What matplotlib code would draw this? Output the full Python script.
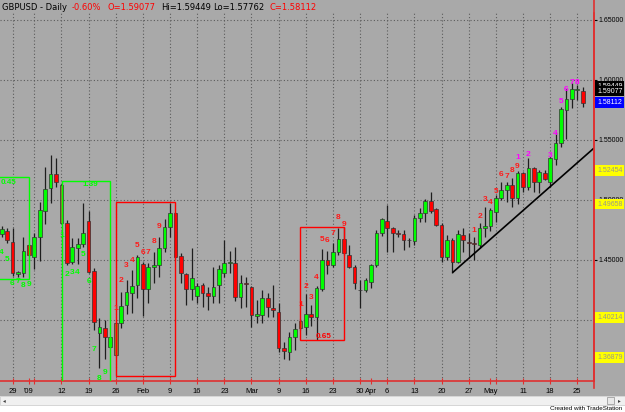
import numpy as np
import matplotlib
matplotlib.use("Agg")
import matplotlib.pyplot as plt
import matplotlib.transforms as mtransforms
from matplotlib.patches import Rectangle
from matplotlib.lines import Line2D

# GBPUSD daily bars, Dec 24 2008 .. May 26 2009 (bar index = trading day)
opens = [1.4717, 1.4744, 1.4650, 1.4383, 1.4394, 1.4625, 1.4523, 1.4689, 1.4911, 1.5098,
         1.5217, 1.5125, 1.4806, 1.4486, 1.4603, 1.4631, 1.4825, 1.4408, 1.3889, 1.3936,
         1.3778, 1.3711, 1.3978, 1.4125, 1.4223, 1.4292, 1.4467, 1.4258, 1.4444, 1.4458,
         1.4598, 1.4773, 1.4894, 1.4533, 1.4383, 1.4258, 1.4200, 1.4292, 1.4228, 1.4200,
         1.4292, 1.4389, 1.4473, 1.4473, 1.4194, 1.4308, 1.4278, 1.4033, 1.4042, 1.4181,
         1.4098, 1.4069, 1.3764, 1.3736, 1.3861, 1.3931, 1.3944, 1.4050, 1.4023, 1.4256,
         1.4500, 1.4458, 1.4564, 1.4673, 1.4542, 1.4439, 1.4246, 1.4250, 1.4317, 1.4458,
         1.4723, 1.4828, 1.4764, 1.4728, 1.4714, 1.4667, 1.4661, 1.4848, 1.4889, 1.4992,
         1.4923, 1.4792, 1.4528, 1.4667, 1.4486, 1.4708, 1.4653, 1.4639, 1.4625, 1.4764,
         1.4783, 1.4903, 1.5014, 1.5083, 1.5125, 1.5014, 1.5223, 1.5111, 1.5264, 1.5153,
         1.5228, 1.5153, 1.5339, 1.5473, 1.5750, 1.5839, 1.5917, 1.59077]
highs = [1.4783, 1.4767, 1.4767, 1.4408, 1.4692, 1.4633, 1.4728, 1.4986, 1.5278, 1.5375,
         1.5348, 1.5133, 1.4833, 1.4681, 1.4681, 1.4973, 1.4908, 1.4436, 1.4014, 1.4000,
         1.3861, 1.3983, 1.4236, 1.4333, 1.4417, 1.4542, 1.4486, 1.4478, 1.4569, 1.4694,
         1.4839, 1.4978, 1.4903, 1.4561, 1.4394, 1.4598, 1.4306, 1.4306, 1.4278, 1.4439,
         1.4458, 1.4667, 1.4575, 1.4606, 1.4375, 1.4361, 1.4283, 1.4167, 1.4250, 1.4223,
         1.4292, 1.4142, 1.3817, 1.3900, 1.3973, 1.4008, 1.4217, 1.4125, 1.4283, 1.4589,
         1.4578, 1.4639, 1.4764, 1.4778, 1.4625, 1.4458, 1.4333, 1.4350, 1.4467, 1.4750,
         1.4850, 1.4958, 1.4778, 1.4750, 1.4750, 1.4681, 1.4875, 1.4931, 1.5006, 1.5069,
         1.4931, 1.4806, 1.4708, 1.4681, 1.4750, 1.4767, 1.4725, 1.4694, 1.4806, 1.4944,
         1.4931, 1.5042, 1.5153, 1.5153, 1.5181, 1.5244, 1.5236, 1.5348, 1.5278, 1.5250,
         1.5250, 1.5361, 1.5569, 1.5778, 1.5922, 1.5972, 1.5958, 1.59449]
lows = [1.4692, 1.4642, 1.4367, 1.4358, 1.4358, 1.4533, 1.4423, 1.4494, 1.4798, 1.4978,
        1.5111, 1.4808, 1.4458, 1.4467, 1.4467, 1.4611, 1.4389, 1.3917, 1.3598, 1.3673,
        1.3764, 1.3700, 1.3933, 1.4050, 1.4058, 1.4181, 1.4033, 1.4144, 1.4306, 1.4356,
        1.4564, 1.4694, 1.4517, 1.4306, 1.4125, 1.4167, 1.4139, 1.4111, 1.4083, 1.4139,
        1.4139, 1.4356, 1.4389, 1.4161, 1.4098, 1.4111, 1.3944, 1.3975, 1.3973, 1.4028,
        1.4028, 1.3733, 1.3675, 1.3667, 1.3750, 1.3917, 1.3875, 1.3950, 1.3833, 1.4244,
        1.4383, 1.4444, 1.4542, 1.4542, 1.4431, 1.4256, 1.4098, 1.4233, 1.4267, 1.4442,
        1.4700, 1.4569, 1.4569, 1.4694, 1.4583, 1.4611, 1.4625, 1.4819, 1.4819, 1.4889,
        1.4783, 1.4486, 1.4500, 1.4394, 1.4473, 1.4569, 1.4514, 1.4500, 1.4598, 1.4694,
        1.4744, 1.4819, 1.5000, 1.4986, 1.4944, 1.4967, 1.5069, 1.5083, 1.5069, 1.5056,
        1.5167, 1.5111, 1.5292, 1.5444, 1.5506, 1.5764, 1.5833, 1.57762]
closes = [1.4758, 1.4667, 1.4392, 1.4400, 1.4578, 1.4542, 1.4689, 1.4917, 1.5089, 1.5217,
          1.5153, 1.4811, 1.4473, 1.4606, 1.4631, 1.4723, 1.4403, 1.3986, 1.3944, 1.3861,
          1.3856, 1.3978, 1.4117, 1.4236, 1.4286, 1.4528, 1.4256, 1.4444, 1.4458, 1.4598,
          1.4778, 1.4889, 1.4528, 1.4389, 1.4258, 1.4348, 1.4283, 1.4223, 1.4200, 1.4278,
          1.4423, 1.4473, 1.4481, 1.4189, 1.4306, 1.4300, 1.4042, 1.4050, 1.4181, 1.4111,
          1.4081, 1.3764, 1.3739, 1.3861, 1.3923, 1.3992, 1.4050, 1.4028, 1.4264, 1.4500,
          1.4458, 1.4564, 1.4673, 1.4556, 1.4444, 1.4306, 1.4254, 1.4333, 1.4458, 1.4723,
          1.4839, 1.4764, 1.4723, 1.4714, 1.4667, 1.4663, 1.4848, 1.4894, 1.4994, 1.4911,
          1.4792, 1.4528, 1.4667, 1.4486, 1.4717, 1.4667, 1.4639, 1.4631, 1.4764, 1.4783,
          1.4917, 1.5019, 1.5083, 1.5125, 1.5014, 1.5223, 1.5111, 1.5264, 1.5153, 1.5236,
          1.5173, 1.5348, 1.5473, 1.5756, 1.5839, 1.5925, 1.5921, 1.58112]
flip_bars = [11, 21, 55]  # olive bars where a count starts

# date axis
tick_idx = [2, 5, 6, 11, 16, 21, 26, 31, 36, 41, 46, 51, 56, 61, 66, 68, 71, 76, 81, 86, 90, 91, 96, 101, 106]
tick_lbl = ['29', "'09", '', '12', '19', '26', 'Feb', '9', '16', '23', 'Mar', '9', '16', '23',
            '30', 'Apr', '6', '13', '20', '27', 'May', '', '11', '18', '25']
monday_idx = [2, 6, 11, 16, 21, 26, 31, 36, 41, 46, 51, 56, 61, 66, 71, 76, 81, 86, 91, 96, 101, 106]
price_levels = [1.40, 1.45, 1.50, 1.55, 1.60, 1.65]

# setup counts: bar index and label price
green_a_idx = [0, 1, 2, 3, 4, 5]
green_a_txt = ['4', '5', '6', '7', '8', '9']
green_a_y = [1.4563, 1.4503, 1.4308, 1.4321, 1.4285, 1.4296]
green_b_idx = [11, 12, 13, 14, 15, 16, 17, 18, 19]
green_b_y = [1.4708, 1.4375, 1.4400, 1.4400, 1.4546, 1.4319, 1.3756, 1.3514, 1.3564]
red_a_idx = [21, 22, 23, 24, 25, 26, 27, 28, 29]
red_a_y = [1.4097, 1.4329, 1.4450, 1.4494, 1.4622, 1.4564, 1.4564, 1.4658, 1.4783]
red_b_idx = [55, 56, 57, 58, 59, 60, 61, 62, 63]
red_b_y = [1.4133, 1.4283, 1.4186, 1.4356, 1.4667, 1.4661, 1.4717, 1.4856, 1.4800]
red_c_idx = [87, 88, 89, 90, 91, 92, 93, 94, 95]
red_c_y = [1.4744, 1.4861, 1.5000, 1.4978, 1.5069, 1.5214, 1.5194, 1.5250, 1.5283]
mag_idx = [95, 97, 101, 102, 103, 104, 105, 106]
mag_y = [1.5356, 1.5381, 1.5369, 1.5556, 1.5819, 1.5922, 1.5978, 1.5978]

# setup boxes: (left idx, right idx, low, high, colour, label, label idx, label price)
boxes = [
    (-1.0, 5.08, 1.4339, 1.5189, '#00ff00', '0.45', 1.25, 1.5144),
    (11.05, 20.0, 1.3300, 1.5161, '#00ff00', '1.39', 16.35, 1.5125),
    (21.0, 32.0, 1.3533, 1.4986, '#ff0000', '', 0, 0),
    (55.0, 63.0, 1.3833, 1.4778, '#ff0000', '0.65', 59.3, 1.3861),
]
trend_from, trend_thru = 83, 101

# price markers on the right scale
yellow_levels = [1.52454, 1.49658, 1.40214, 1.36879]

BG = '#a9a9a9'
GRID = '#5c5c5c'
W, H = 625, 412
FONT = ['Liberation Sans', 'DejaVu Sans']

fig = plt.figure(figsize=(W / 100, H / 100), dpi=100, facecolor=BG)
ax = fig.add_axes([0, (H - 381) / H, 594 / W, 368 / H])
ax.set_facecolor(BG)

n = len(opens)
x = np.arange(n)
o = np.array(opens); c = np.array(closes)
hi = np.array(highs); lo = np.array(lows)

x_left = (0 - 1.7) / 5.43
x_right = (594 - 1.7) / 5.43
ax.set_xlim(x_left, x_right)
ax.set_ylim(1.6 - 301 / 1200, 1.6 + 67 / 1200)

# grid
for g in monday_idx:
    ax.axvline(g, color=GRID, lw=0.8, ls=(0, (1, 2)), zorder=1)
for lv in price_levels:
    ax.axhline(lv, color=GRID, lw=0.8, ls=(0, (1, 2)), zorder=1)

# candles
ax.vlines(x, lo, hi, color='#1e1e1e', lw=0.9, zorder=3)
body_lo = np.minimum(o, c)
body_h = np.maximum(np.abs(c - o), 0.0006)
cols = ['#00ff00' if cc >= oo else '#ff0000' for oo, cc in zip(o, c)]
for i in flip_bars:
    cols[i] = '#9a7b2a'
ax.bar(x, body_h, bottom=body_lo, width=0.68, color=cols, edgecolor='#333333',
       linewidth=0.5, zorder=4)

# setup boxes
for x0, x1, y0, y1, col, lbl, lx, ly in boxes:
    ax.add_patch(Rectangle((x0, y0), x1 - x0, y1 - y0, fill=False, edgecolor=col,
                           lw=1.0, zorder=5))
    if lbl:
        ax.text(lx, ly, lbl, color=col, fontsize=5.8, fontweight='bold', family=FONT,
                ha='center', va='center', zorder=6)

# counts
def counts(idx, ys, col, txt=None):
    if txt is None:
        txt = [str(k + 1) for k in range(len(idx))]
    for i, yv, t in zip(idx, ys, txt):
        ax.text(i, yv, t, color=col, fontsize=6, fontweight='bold', family=FONT,
                ha='center', va='center', zorder=6)

counts(green_a_idx, green_a_y, '#00ff00', green_a_txt)
counts(green_b_idx, green_b_y, '#00ff00')
counts(red_a_idx, red_a_y, '#ff1a1a')
counts(red_b_idx, red_b_y, '#ff1a1a')
counts(red_c_idx, red_c_y, '#ff1a1a')
counts(mag_idx, mag_y, '#ff00ff')

# trendline through two lows, extended to the right edge
slope = (lo[trend_thru] - lo[trend_from]) / (trend_thru - trend_from)
ax.plot([trend_from, x_right], [lo[trend_from], lo[trend_from] + slope * (x_right - trend_from)],
        color='black', lw=1.2, zorder=5, solid_capstyle='butt')

# axes styling
for s in ['top', 'left']:
    ax.spines[s].set_visible(False)
for s in ['right', 'bottom']:
    ax.spines[s].set_color('#e03030')
    ax.spines[s].set_linewidth(1.2)

ax.set_xticks(tick_idx)
ax.set_xticklabels(tick_lbl, fontsize=5.5, family=FONT)
ax.tick_params(axis='x', direction='inout', length=4, color='#e03030', pad=3)
ax.yaxis.tick_right()
ax.set_yticks(price_levels)
ax.set_yticklabels(['%.5f' % v for v in price_levels], fontsize=5, family=FONT)
ax.tick_params(axis='y', direction='out', length=2.5, color='black', pad=0.5)

# right scale markers
tr = mtransforms.blended_transform_factory(ax.transAxes, ax.transData)
def marker(p, txt, fc, tc):
    ax.text(1.0 + 3 / 594, p, txt, transform=tr, fontsize=5, family=FONT, color=tc,
            ha='left', va='center', clip_on=False, zorder=10,
            bbox=dict(boxstyle='square,pad=0.25', fc=fc, ec='none'))

for lv in yellow_levels:
    marker(lv, '%.5f' % lv, '#ffff00', '#9a9a88')
marker(highs[-1], '%.5f' % highs[-1], 'black', 'white')
marker(opens[-1], '%.5f' % opens[-1], 'black', 'white')
marker(closes[-1], '%.5f' % closes[-1], '#0000ff', 'white')

fig.add_artist(Line2D([594 / W, 594 / W], [(H - 388) / H, 1.0], color='#e03030', lw=1.2))

# header
def head(px, txt, col):
    fig.text(px / W, 1 - 7.5 / H, txt, color=col, fontsize=6, family='DejaVu Sans',
             ha='left', va='center')

head(2, 'GBPUSD - Daily', 'black')
head(72, '-0.60%', '#ff0000')
head(107, 'O=%.5f' % opens[-1], '#ff0000')
head(161, 'Hi=%.5f' % highs[-1], 'black')
head(213, 'Lo=%.5f' % lows[-1], 'black')
head(269, 'C=%.5f' % closes[-1], '#ff0000')

# bottom scroll bar
fig.add_artist(Rectangle((0, 0), 1, (H - 396) / H, transform=fig.transFigure,
                         fc='white', ec='none'))
fig.add_artist(Rectangle((0, (H - 405) / H), 1, 9 / H, transform=fig.transFigure,
                         fc='#f0f0f0', ec='#c8c8c8', lw=0.5))
fig.add_artist(Rectangle((607 / W, (H - 404) / H), 7 / W, 7 / H, transform=fig.transFigure,
                         fc='#e8e8e8', ec='#909090', lw=0.5))
fig.text(3 / W, 1 - 400.5 / H, '\u25c2', fontsize=4, color='#404040', va='center')
fig.text(618 / W, 1 - 400.5 / H, '\u25b8', fontsize=4, color='#404040', va='center')
fig.text(622 / W, 1 - 409 / H, 'Created with TradeStation', fontsize=4.5, family=FONT,
         color='black', ha='right', va='center')

fig.savefig('out.png', dpi=100, facecolor=BG)
